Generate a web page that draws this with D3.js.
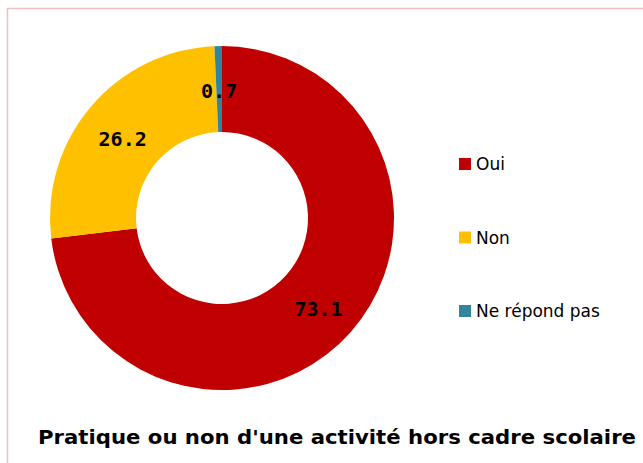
<!DOCTYPE html>
<html>
<head>
<meta charset="utf-8">
<script src="https://cdn.jsdelivr.net/npm/d3@7"></script>
<style>
  body { margin: 0; background: #fff; }
  text { font-family: "Comic Sans MS", "DejaVu Sans", sans-serif; }
  .val { font-family: "DejaVu Sans Mono", monospace; font-weight: bold; }
</style>
</head>
<body>
<div class="chart"></div>
<script>
const categories = ["Oui", "Non", "Ne répond pas"];
const values = [73.1, 26.2, 0.7];
const colors = ["#C00000", "#FFC000", "#31859C"];
const title = "Pratique ou non d'une activité hors cadre scolaire";

const svgWidth = 643, svgHeight = 463;

const svg = d3.select(".chart")
  .append("svg")
  .attr("width", svgWidth)
  .attr("height", svgHeight);

// chart border
svg.append("rect")
  .attr("x", 7.5).attr("y", 8.5)
  .attr("width", 660).attr("height", 480)
  .attr("fill", "none")
  .attr("stroke", "#efc0c0")
  .attr("stroke-width", 1.5);

const cx = 222, cy = 218, outerR = 172, innerR = 86;

const data = categories.map((c, i) => ({ name: c, value: values[i], color: colors[i] }));

const pie = d3.pie().value(d => d.value).sort(null);
const arc = d3.arc().innerRadius(innerR).outerRadius(outerR);

const pieGroup = svg.append("g")
  .attr("transform", `translate(${cx}, ${cy})`);

const arcs = pie(data);

pieGroup.selectAll("path")
  .data(arcs)
  .enter()
  .append("path")
  .attr("d", arc)
  .attr("fill", d => d.data.color);

// data labels (positions relative to slice centroids)
const labelArc = d3.arc().innerRadius(outerR * 0.75).outerRadius(outerR * 0.75);
const labelShift = [[0, 5], [-1, 4], [0, 2]];
pieGroup.selectAll("text.val")
  .data(arcs)
  .enter()
  .append("text")
  .attr("class", "val")
  .attr("x", (d, i) => labelArc.centroid(d)[0] + labelShift[i][0])
  .attr("y", (d, i) => labelArc.centroid(d)[1] + labelShift[i][1])
  .attr("text-anchor", "middle")
  .attr("dominant-baseline", "central")
  .attr("font-size", 20)
  .attr("fill", "#000")
  .text(d => d.data.value);

// legend
const legendY = d3.scalePoint().domain(categories).range([164, 311]);
const legend = svg.append("g");
legend.selectAll("rect")
  .data(data)
  .enter()
  .append("rect")
  .attr("x", 459)
  .attr("y", d => legendY(d.name) - 6)
  .attr("width", 12).attr("height", 12)
  .attr("fill", d => d.color);
legend.selectAll("text")
  .data(data)
  .enter()
  .append("text")
  .attr("x", 476)
  .attr("y", d => legendY(d.name))
  .attr("dominant-baseline", "central")
  .attr("font-size", 17)
  .attr("fill", "#000")
  .text(d => d.name);

// title
svg.append("text")
  .attr("x", 337)
  .attr("y", 437)
  .attr("text-anchor", "middle")
  .attr("dominant-baseline", "central")
  .attr("font-size", 20)
  .attr("font-weight", "bold")
  .attr("textLength", 598)
  .attr("lengthAdjust", "spacingAndGlyphs")
  .text(title);
</script>
</body>
</html>
